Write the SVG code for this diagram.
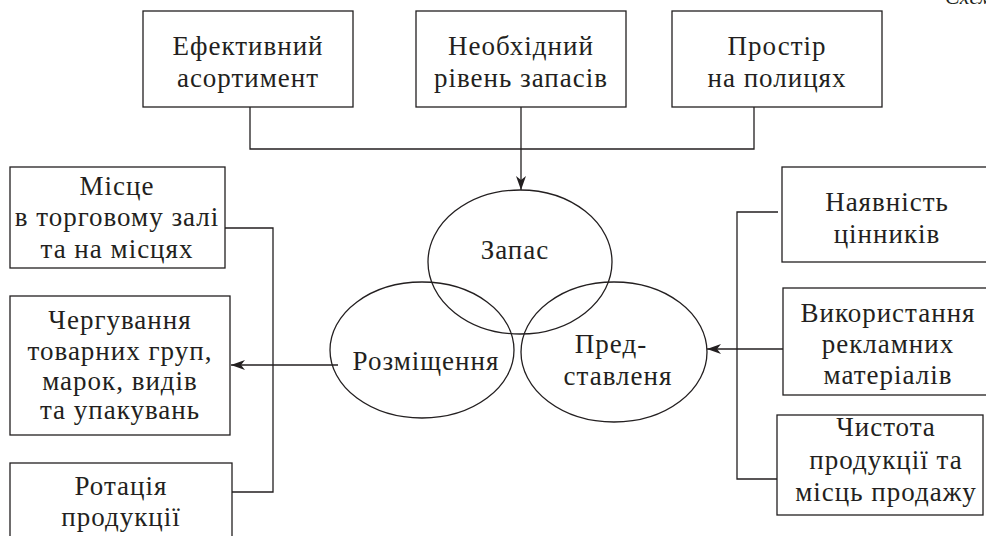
<svg xmlns="http://www.w3.org/2000/svg" width="986" height="536" viewBox="0 0 986 536">
<style>
.box{fill:#fff;stroke:#231f20;stroke-width:1.3}
.ell{fill:none;stroke:#231f20;stroke-width:1.3}
.ln{fill:none;stroke:#231f20;stroke-width:1.3}
text{font-size:27px;letter-spacing:1px;fill:#231f20;text-anchor:middle}
.cap{font-style:italic;font-size:22px;letter-spacing:0;text-anchor:start}
</style>
<defs>
<marker id="ah" viewBox="0 0 14 10" refX="14" refY="5" markerWidth="14" markerHeight="10" markerUnits="userSpaceOnUse" orient="auto">
<path d="M0,0 L14,5 L0,10 L4,5 Z" fill="#231f20"/>
</marker>
</defs>
<rect width="986" height="536" fill="#fff"/>
<g font-family="Liberation Serif, DejaVu Serif, serif">
<text class="cap" x="945" y="4">Схема</text>
<g id="connectors">
<path class="ln" d="M250,107 V149 H754 V107"/>
<path class="ln" d="M521,107 V190" marker-end="url(#ah)"/>
<path class="ln" d="M225,228 H273 V492 H232"/>
<path class="ln" d="M338,365 H231" marker-end="url(#ah)"/>
<path class="ln" d="M778,212 H737 V479 H778"/>
<path class="ln" d="M783,349 H707" marker-end="url(#ah)"/>
</g>
<g id="n-eff"><rect class="box" x="143" y="11" width="210" height="96"/><text x="248" y="55">Ефективний</text><text x="248" y="87">асортимент</text></g>
<g id="n-neob"><rect class="box" x="416" y="11" width="210" height="96"/><text x="521" y="55">Необхідний</text><text x="521" y="87">рівень запасів</text></g>
<g id="n-prostir"><rect class="box" x="672" y="11" width="210" height="96"/><text x="777" y="55">Простір</text><text x="777" y="87">на полицях</text></g>
<g id="n-zapas"><ellipse class="ell" cx="520" cy="262" rx="92" ry="72"/><text x="515" y="259">Запас</text></g>
<g id="n-rozm"><ellipse class="ell" cx="422" cy="350" rx="92" ry="68"/><text x="426" y="370">Розміщення</text></g>
<g id="n-pred"><ellipse class="ell" cx="614" cy="352" rx="93" ry="70"/><text x="611" y="353">Пред-</text><text x="618" y="385">ставленя</text></g>
<g id="n-misce"><rect class="box" x="10" y="167" width="215" height="101"/><text x="117" y="195">Місце</text><text x="117" y="226">в торговому залі</text><text x="117" y="258">та на місцях</text></g>
<g id="n-cherg"><rect class="box" x="10" y="296" width="220" height="139"/><text x="120" y="329">Чергування</text><text x="120" y="360">товарних груп,</text><text x="120" y="390">марок, видів</text><text x="120" y="419">та упакувань</text></g>
<g id="n-rot"><rect class="box" x="10" y="463" width="222" height="90"/><text x="121" y="495">Ротація</text><text x="121" y="526">продукції</text></g>
<g id="n-nayav"><rect class="box" x="782" y="167" width="210" height="95"/><text x="887" y="211">Наявність</text><text x="887" y="243">цінників</text></g>
<g id="n-vykor"><rect class="box" x="783" y="288" width="210" height="107"/><text x="888" y="322">Використання</text><text x="888" y="353">рекламних</text><text x="888" y="384">матеріалів</text></g>
<g id="n-chyst"><rect class="box" x="777" y="415" width="206" height="100"/><text x="886" y="436">Чистота</text><text x="886" y="469">продукції та</text><text x="886" y="501">місць продажу</text></g>
</g>
</svg>
